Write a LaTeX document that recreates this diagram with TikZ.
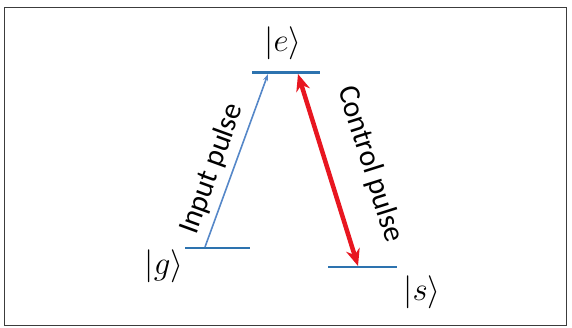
\RequirePackage{fix-cm}
\documentclass[tikz,border=0pt]{standalone}
\usepackage{fontspec}
\newfontfamily\calib{Carlito}
\usetikzlibrary{arrows.meta}
\definecolor{lvlblue}{RGB}{45,115,175}
\definecolor{arrblue}{RGB}{85,135,200}
\definecolor{ctrlred}{RGB}{232,22,32}
\definecolor{framegray}{RGB}{60,60,60}
\tikzset{
  level/.style={draw=lvlblue, line width=2.6pt},
  ket/.style={inner sep=0pt, font=\fontsize{33}{36}\selectfont},
  pulselabel/.style={inner sep=0pt, font=\calib\fontsize{30}{34}\selectfont},
}
\begin{document}
\begin{tikzpicture}[x=1pt,y=-1pt]
\useasboundingbox (0,0) rectangle (572,327);
\draw[framegray, line width=1pt] (4,7) rectangle (566,325);
% levels
\coordinate (e1) at (252,72.5);
\coordinate (e2) at (320,72.5);
\coordinate (g1) at (185,248);
\coordinate (g2) at (250,248);
\coordinate (s1) at (328,267);
\coordinate (s2) at (397,267);
\draw[level] (e1) -- (e2);
\draw[level] (g1) -- (g2);
\draw[level] (s1) -- (s2);
% kets
\node[ket] (ke) at (283,43) {$|e\rangle$};
\node[ket] (kg) at (164,266) {$|g\rangle$};
\node[ket] (ks) at (422,292) {$|s\rangle$};
% arrows
\coordinate (ia) at (205,247);
\coordinate (ib) at (268,74);
\draw[arrblue, line width=1.6pt, -{Stealth[length=7pt,width=5pt]}] (ia) -- (ib);
\coordinate (ca) at (298,74);
\coordinate (cb) at (358,266);
\draw[ctrlred, line width=4.5pt, {Stealth[length=17pt,width=14pt]}-{Stealth[length=17pt,width=14pt]}] (ca) -- (cb);
% labels
\node[pulselabel, rotate=70] (il) at (212,169) {Input pulse};
\node[pulselabel, rotate=-72.5] (cl) at (370,164) {Control pulse};
\end{tikzpicture}
\end{document}
